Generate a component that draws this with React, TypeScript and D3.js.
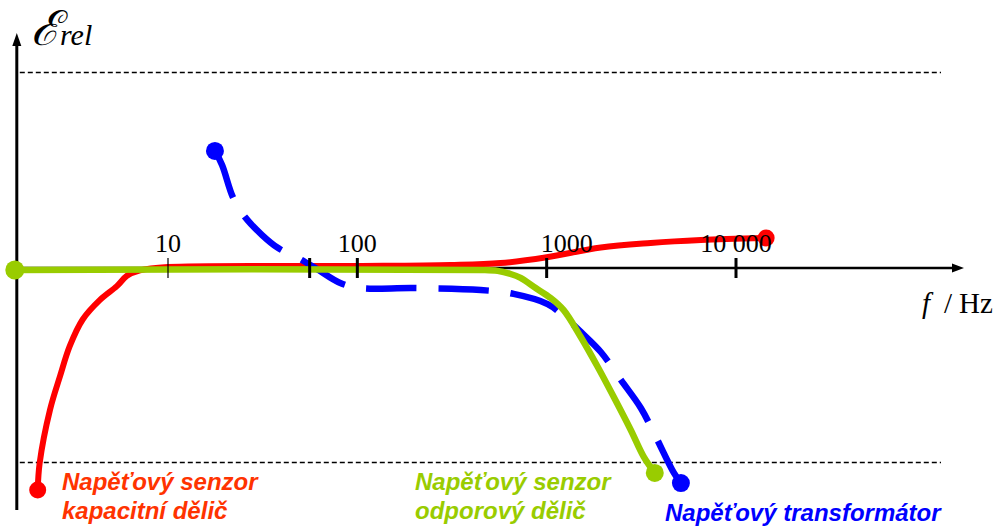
import React, { useLayoutEffect, useRef, useState } from "react";
import * as d3 from "d3";

// ---- data (frequency in Hz, relative error in arbitrary units; ±1 = dashed limits)
const capFreq = [2.05, 2.1, 2.38, 2.69, 3.03, 3.55, 4.36, 5.37, 6.07, 7.11, 10, 100, 310, 571, 1000, 1932, 3540, 6530, 14430];
const capErr = [-1.144, -1.005, -0.733, -0.56, -0.405, -0.268, -0.17, -0.098, -0.045, -0.017, 0.0, 0.005, 0.01, 0.02, 0.05, 0.1, 0.123, 0.138, 0.149];

const resFreq = [1.59, 448, 551, 645, 728, 875, 1050, 1230, 1514, 1862, 2262, 2781, 3258, 3724];
const resErr = [-0.015, -0.015, -0.02, -0.036, -0.056, -0.108, -0.159, -0.221, -0.359, -0.513, -0.667, -0.836, -0.974, -1.056];

const vtFreq = [17.7, 19.3, 22.1, 25.5, 31.4, 38.2, 48.7, 60, 81.3, 104, 198, 448, 669, 1012, 1230, 1514, 1932, 2465, 3143, 3776, 4700, 5117];
const vtErr = [0.595, 0.523, 0.354, 0.256, 0.164, 0.097, 0.046, -0.005, -0.082, -0.108, -0.108, -0.118, -0.138, -0.19, -0.251, -0.333, -0.436, -0.579, -0.723, -0.872, -1.056, -1.108];

const tickValues = [10, 100, 1000, 10000];
const tickLabels = ["10", "100", "1000", "10 000"];
const extraTick = 56; // unlabeled mark (power frequency)
const limitLevels = [1, -1];

const capLabel = ["Napěťový senzor", "kapacitní dělič"];
const resLabel = ["Napěťový senzor", "odporový dělič"];
const vtLabel = ["Napěťový transformátor"];

const W = 1006;
const H = 527;

export default function App() {
  const x = d3.scaleLog().domain([10, 10000]).range([168, 736]);
  const y = d3.scaleLinear().domain([-1, 1]).range([462, 72]);
  const fMin = 1.59;
  const fMax = 160000;
  const x0 = x(fMin);
  const xEnd = x(fMax);
  const yAxis = y(0) + 1;

  const line = d3
    .line<[number, number]>()
    .x((d) => x(d[0]))
    .y((d) => y(d[1]))
    .curve(d3.curveCatmullRom.alpha(0.5));

  const cap = capFreq.map((f, i) => [f, capErr[i]] as [number, number]);
  const res = resFreq.map((f, i) => [f, resErr[i]] as [number, number]);
  const vt = vtFreq.map((f, i) => [f, vtErr[i]] as [number, number]);

  const blueRef = useRef<SVGPathElement>(null);
  const [dash, setDash] = useState("48 21");
  useLayoutEffect(() => {
    const p = blueRef.current;
    if (!p) return;
    const L = p.getTotalLength();
    const d0 = 48;
    const per0 = 69;
    const n = Math.max(1, Math.round((L - d0) / per0));
    const per = (L - d0) / n;
    const dd = (d0 * per) / per0;
    setDash(`${dd.toFixed(2)} ${(per - dd).toFixed(2)}`);
  }, []);

  const red = "#ff0000";
  const green = "#99cc00";
  const blue = "#0000ff";
  const sans = "'Liberation Sans', Arial, sans-serif";
  const serif = "'Liberation Serif', 'Times New Roman', serif";

  const labelDx: Record<string, number> = { "1000": 20 };

  return (
    <svg
      width={W}
      height={H}
      style={{ position: "absolute", left: 0, top: 0, background: "#fff" }}
    >
      <rect width={W} height={H} fill="#fff" />
      {/* limit dashed lines */}
      {limitLevels.map((l) => (
        <line
          key={l}
          x1={x0 + 3}
          x2={941}
          y1={Math.round(y(l)) + 0.5}
          y2={Math.round(y(l)) + 0.5}
          stroke="#000"
          strokeWidth={1.3}
          strokeDasharray="5 3"
        />
      ))}
      {/* y axis */}
      <line x1={x0} x2={x0} y1={44} y2={510} stroke="#000" strokeWidth={3} />
      <path d={`M${x0},33 L${x0 - 4.5},46 L${x0 + 4.5},46 Z`} fill="#000" />
      {/* x axis */}
      <line x1={x0} x2={xEnd - 10} y1={yAxis} y2={yAxis} stroke="#000" strokeWidth={2.5} />
      <path d={`M${xEnd},${yAxis} L${xEnd - 12},${yAxis - 4.5} L${xEnd - 12},${yAxis + 4.5} Z`} fill="#000" />

      {/* curves */}
      <path d={line(cap) || ""} fill="none" stroke={red} strokeWidth={6} strokeLinecap="round" strokeLinejoin="round" />
      <circle cx={x(capFreq[0])} cy={y(capErr[0])} r={8.5} fill={red} />
      <circle cx={x(capFreq[capFreq.length - 1])} cy={y(capErr[capErr.length - 1])} r={8.5} fill={red} />

      <path ref={blueRef} d={line(vt) || ""} fill="none" stroke={blue} strokeWidth={6.5} strokeDasharray={dash} />
      <circle cx={x(vtFreq[0])} cy={y(vtErr[0])} r={9} fill={blue} />
      <circle cx={x(vtFreq[vtFreq.length - 1])} cy={y(vtErr[vtErr.length - 1])} r={9} fill={blue} />

      <path d={line(res) || ""} fill="none" stroke={green} strokeWidth={6.5} strokeLinecap="round" strokeLinejoin="round" />
      <circle cx={x(resFreq[0]) - 2} cy={y(resErr[0])} r={9.5} fill={green} />
      <circle cx={x(resFreq[resFreq.length - 1])} cy={y(resErr[resErr.length - 1])} r={9} fill={green} />

      {/* ticks */}
      {tickValues.map((t, i) => (
        <line
          key={t}
          x1={x(t)}
          x2={x(t)}
          y1={yAxis - 10}
          y2={yAxis + 10}
          stroke="#000"
          strokeWidth={i === 0 ? 1.2 : 3}
        />
      ))}
      <line x1={x(extraTick)} x2={x(extraTick)} y1={yAxis - 10} y2={yAxis + 10} stroke="#000" strokeWidth={3} />
      {tickValues.map((t, i) => (
        <text
          key={"l" + t}
          x={x(t) + (labelDx[tickLabels[i]] || 0)}
          y={252}
          textAnchor="middle"
          fontFamily={serif}
          fontSize={26}
          fill="#000"
        >
          {tickLabels[i]}
        </text>
      ))}

      {/* axis titles */}
      <text x={31} y={45} fontFamily={serif} fill="#000">
        <tspan fontSize={48} fontStyle="italic">ℰ</tspan>
        <tspan fontSize={30} fontStyle="italic">rel</tspan>
      </text>
      <text y={313} fontFamily={serif} fontSize={29} fill="#000">
        <tspan x={922} fontStyle="italic">f</tspan>
        <tspan x={944}>/</tspan>
        <tspan x={959}>Hz</tspan>
      </text>

      {/* series labels */}
      <text fontFamily={sans} fontSize={24} fontWeight="bold" fontStyle="italic" fill="#ff3300">
        {capLabel.map((s, i) => (
          <tspan key={i} x={62} y={490 + i * 29}>{s}</tspan>
        ))}
      </text>
      <text fontFamily={sans} fontSize={24} fontWeight="bold" fontStyle="italic" fill={green}>
        {resLabel.map((s, i) => (
          <tspan key={i} x={415} y={490 + i * 29}>{s}</tspan>
        ))}
      </text>
      <text fontFamily={sans} fontSize={24} fontWeight="bold" fontStyle="italic" fill={blue}>
        {vtLabel.map((s, i) => (
          <tspan key={i} x={665} y={521}>{s}</tspan>
        ))}
      </text>
    </svg>
  );
}
